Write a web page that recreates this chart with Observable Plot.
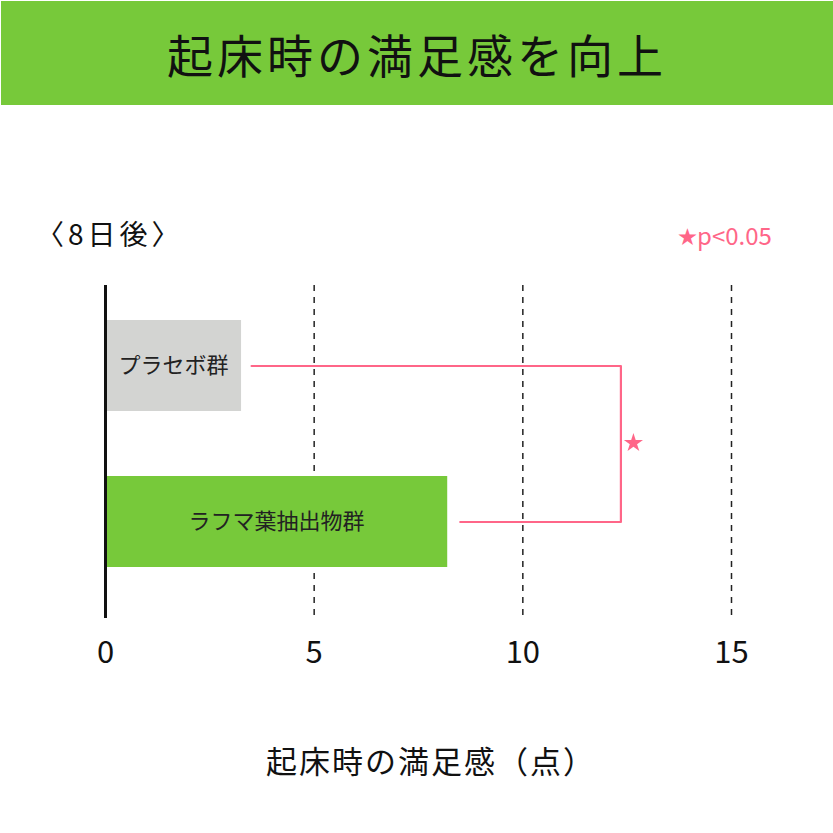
<!DOCTYPE html>
<html><head><meta charset="utf-8">
<script src="https://cdn.jsdelivr.net/npm/d3@7"></script>
<script src="https://cdn.jsdelivr.net/npm/@observablehq/plot@0.6"></script>
<style>
body{margin:0;background:#fff;font-family:"Noto Sans CJK JP",sans-serif;color:#111;}
#wrap{position:relative;width:833px;height:833px;overflow:hidden;background:#fff;}
#banner{position:absolute;left:1px;top:1px;width:832px;height:104px;background:#77c93a;
  text-align:center;font-size:46px;letter-spacing:4px;line-height:104px;color:#111;}
#chart{position:absolute;left:0;top:105px;}
#period{position:absolute;left:36px;top:213px;font-size:28px;line-height:40px;letter-spacing:4px;}
#sig{position:absolute;left:678px;top:219px;font-size:24px;line-height:32px;color:#ff6688;white-space:nowrap;}
#sig .star{font-size:19px;margin-right:0px;position:relative;top:-1px;}
#xlabel{position:absolute;left:431px;top:739px;transform:translateX(-50%);font-size:31px;line-height:42px;letter-spacing:2px;white-space:nowrap;}
</style></head><body>
<div id="wrap">
  <div id="banner">起床時の満足感を向上</div>
  <div id="chart"></div>
  <div id="period">〈8日後〉</div>
  <div id="sig"><span class="star">★</span>p&lt;0.05</div>
  <div id="xlabel">起床時の満足感（点）</div>
</div>
<script>
const groups = ["プラセボ群", "ラフマ葉抽出物群"];
const values = [3.26, 8.2];
const barColors = ["#d3d4d2", "#77c93a"];
const xTicks = [0, 5, 10, 15];
const gridTicks = [5, 10, 15];
const bracketStarts = [3.5, 8.5];
const bracketX = 12.35;
const starX = 12.65;

const data = groups.map((g, i) => ({group: g, value: values[i], color: barColors[i]}));
const bracket = [
  {x: bracketStarts[0], y: groups[0]},
  {x: bracketX, y: groups[0]},
  {x: bracketX, y: groups[1]},
  {x: bracketStarts[1], y: groups[1]}
];

const chart = Plot.plot({
  width: 833,
  height: 728,
  marginLeft: 105,
  marginRight: 102,
  marginTop: 180,
  marginBottom: 215,
  style: {fontFamily: "'Noto Sans CJK JP', sans-serif", background: "transparent", color: "#111"},
  x: {domain: [0, 15]},
  y: {domain: groups, range: [215, 462], paddingInner: 0.4167, paddingOuter: 0, round: false, axis: null},
  color: {type: "identity"},
  marks: [
    Plot.ruleX(gridTicks, {stroke: "#222", strokeWidth: 1.5, strokeDasharray: "6,6"}),
    Plot.barX(data, {x: "value", y: "group", fill: "color"}),
    Plot.ruleX([0], {stroke: "#111", strokeWidth: 3}),
    Plot.text(data, {x: d => d.value / 2, y: "group", text: "group", fontSize: 22, fill: "#222"}),
    Plot.line(bracket, {x: "x", y: "y", stroke: "#ff6688", strokeWidth: 2.2, curve: "linear"}),
    Plot.dot([starX], {x: d => d, y: () => groups[0], dy: 77, symbol: "star", fill: "#ff6688", stroke: "none", r: 6}),
    Plot.axisX(xTicks, {tickSize: 0, tickPadding: 22, fontSize: 31, label: null, fill: "#111"})
  ]
});
document.getElementById("chart").appendChild(chart);
</script>
</body></html>
